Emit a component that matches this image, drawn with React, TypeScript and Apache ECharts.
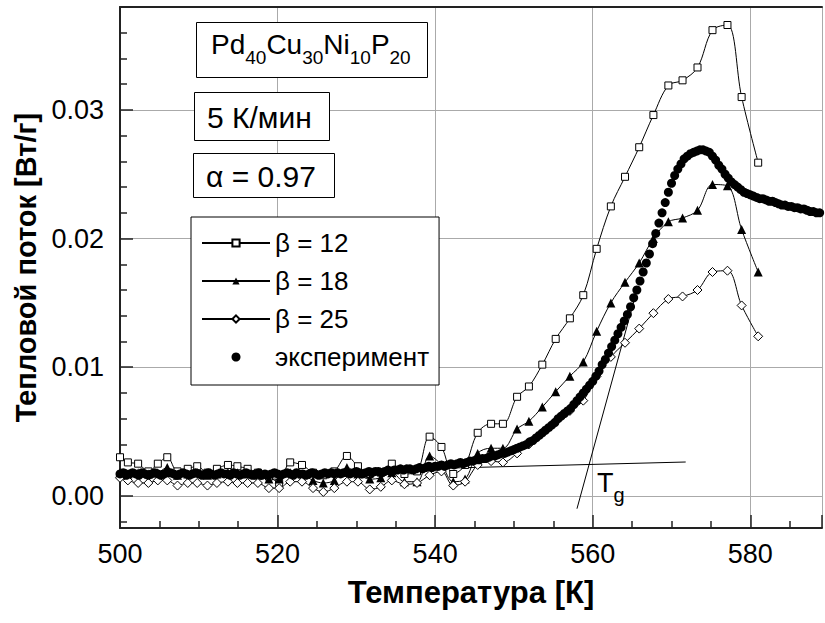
import React, { useEffect, useRef } from "react";
import * as echarts from "echarts";

const FONT = "'Liberation Sans', Arial, Helvetica, sans-serif";

// Legend / series names
const seriesNames = ["β = 12", "β = 18", "β = 25", "эксперимент"];

// Axis tick labels
const xTickLabels = [500, 520, 540, 560, 580];
const yTickLabels = [0.0, 0.01, 0.02, 0.03];

// Temperature points of the model curves [K]
const modelT = [
  500.0, 501.0, 502.3, 503.6, 504.8, 506.0, 507.3, 508.6, 509.8, 511.1,
  512.3, 513.7, 514.9, 516.2, 517.5, 518.9, 520.2, 521.6, 523.1, 524.5,
  525.8, 527.2, 528.8, 530.2, 531.7, 533.1, 534.5, 536.1, 537.7, 539.3,
  540.8, 542.3, 543.8, 545.4, 547.1, 548.6, 550.4, 551.9, 553.6, 555.3,
  557.1, 558.8, 560.5, 562.3, 564.1, 565.9, 567.7, 569.6, 571.4, 573.3,
  575.2, 577.1, 578.9, 581.0,
];

// Model heat flow, beta = 12 [W/g]
const beta12 = [
  0.0030, 0.0026, 0.0025, 0.0019, 0.0025, 0.0030, 0.0019, 0.0021, 0.0023, 0.0018,
  0.0021, 0.0024, 0.0023, 0.0021, 0.0018, 0.0015, 0.0010, 0.0026, 0.0024, 0.0018,
  0.0016, 0.0019, 0.0031, 0.0023, 0.0017, 0.0018, 0.0025, 0.0017, 0.0019, 0.0046,
  0.0038, 0.0017, 0.0024, 0.0049, 0.0056, 0.0056, 0.0077, 0.0085, 0.0102, 0.0122,
  0.0138, 0.0156, 0.0192, 0.0225, 0.0248, 0.0271, 0.0296, 0.0319, 0.0323, 0.0333,
  0.0362, 0.0366, 0.0310, 0.0259,
];

// Model heat flow, beta = 18 [W/g]
const beta18 = [
  0.0018, 0.0017, 0.0018, 0.0017, 0.0018, 0.0022, 0.0016, 0.0017, 0.0018, 0.0016,
  0.0017, 0.0018, 0.0018, 0.0017, 0.0016, 0.0013, 0.0013, 0.0018, 0.0017, 0.0012,
  0.0010, 0.0012, 0.0022, 0.0017, 0.0013, 0.0014, 0.0018, 0.0011, 0.0011, 0.0031,
  0.0024, 0.0011, 0.0013, 0.0033, 0.0037, 0.0037, 0.0052, 0.0058, 0.0069, 0.0081,
  0.0093, 0.0104, 0.0128, 0.0150, 0.0166, 0.0181, 0.0200, 0.0213, 0.0216, 0.0222,
  0.0242, 0.0241, 0.0207, 0.0174,
];

// Model heat flow, beta = 25 [W/g]
const beta25 = [
  0.0014, 0.0012, 0.0010, 0.0010, 0.0012, 0.0012, 0.0008, 0.0010, 0.0010, 0.0008,
  0.0010, 0.0011, 0.0010, 0.0010, 0.0010, 0.0006, 0.0006, 0.0011, 0.0011, 0.0006,
  0.0003, 0.0006, 0.0011, 0.0011, 0.0005, 0.0007, 0.0012, 0.0009, 0.0010, 0.0016,
  0.0019, 0.0008, 0.0011, 0.0024, 0.0027, 0.0026, 0.0033, 0.0040, 0.0049, 0.0058,
  0.0066, 0.0074, 0.0093, 0.0108, 0.0119, 0.0130, 0.0142, 0.0153, 0.0155, 0.0160,
  0.0174, 0.0175, 0.0148, 0.0124,
];

// Experimental DSC curve: first temperature, temperature step [K], readings [W/g]
const expStartT = 500;
const expStepT = 0.4;
const expHeat = [
  0.0017, 0.0018, 0.0016, 0.0017, 0.0018, 0.0017, 0.0016, 0.0018, 0.0017, 0.0016,
  0.0017, 0.0018, 0.0017, 0.0016, 0.0017, 0.0018, 0.0018, 0.0017, 0.0016, 0.0017,
  0.0018, 0.0017, 0.0016, 0.0017, 0.0018, 0.0017, 0.0016, 0.0017, 0.0018, 0.0017,
  0.0016, 0.0017, 0.0018, 0.0017, 0.0017, 0.0016, 0.0018, 0.0017, 0.0016, 0.0017,
  0.0018, 0.0017, 0.0016, 0.0017, 0.0018, 0.0016, 0.0017, 0.0016, 0.0017, 0.0018,
  0.0017, 0.0016, 0.0017, 0.0018, 0.0017, 0.0016, 0.0018, 0.0017, 0.0017, 0.0016,
  0.0017, 0.0018, 0.0017, 0.0016, 0.0017, 0.0018, 0.0017, 0.0018, 0.0017, 0.0018,
  0.0017, 0.0018, 0.0018, 0.0017, 0.0018, 0.0019, 0.0018, 0.0017, 0.0018, 0.0019,
  0.0018, 0.0019, 0.0019, 0.0018, 0.0019, 0.0020, 0.0019, 0.0020, 0.0020, 0.0021,
  0.0020, 0.0021, 0.0021, 0.0020, 0.0021, 0.0022, 0.0021, 0.0022, 0.0023, 0.0022,
  0.0023, 0.0023, 0.0024, 0.0023, 0.0024, 0.0025, 0.0024, 0.0025, 0.0026, 0.0025,
  0.0026, 0.0027, 0.0027, 0.0028, 0.0028, 0.0029, 0.0029, 0.0030, 0.0031, 0.0031,
  0.0032, 0.0033, 0.0033, 0.0034, 0.0035, 0.0036, 0.0037, 0.0038, 0.0039, 0.0040,
  0.0042, 0.0043, 0.0045, 0.0047, 0.0049, 0.0051, 0.0053, 0.0055, 0.0057, 0.0060,
  0.0062, 0.0064, 0.0066, 0.0068, 0.0071, 0.0074, 0.0077, 0.0080, 0.0083, 0.0086,
  0.0089, 0.0093, 0.0097, 0.0102, 0.0106, 0.0111, 0.0116, 0.0121, 0.0126, 0.0131,
  0.0136, 0.0141, 0.0147, 0.0154, 0.0160, 0.0167, 0.0174, 0.0181, 0.0188, 0.0196,
  0.0204, 0.0212, 0.0220, 0.0228, 0.0236, 0.0243, 0.0249, 0.0254, 0.0258, 0.0262,
  0.0264, 0.0266, 0.0267, 0.0268, 0.0269, 0.0269, 0.0268, 0.0267, 0.0264, 0.0261,
  0.0257, 0.0254, 0.0250, 0.0247, 0.0244, 0.0242, 0.0240, 0.0238, 0.0236, 0.0235,
  0.0234, 0.0233, 0.0232, 0.0231, 0.0231, 0.0230, 0.0229, 0.0229, 0.0228, 0.0227,
  0.0226, 0.0226, 0.0225, 0.0225, 0.0224, 0.0224, 0.0223, 0.0223, 0.0222, 0.0221,
  0.0221, 0.0220, 0.0220,
];

// Construction lines for Tg (baseline and inflection tangent)
const baselineT = [500, 571.8];
const baselineV = [0.0015, 0.00263];
const onsetT = [558.0, 565.3];
const onsetV = [-0.001, 0.0153];

const zip = (xs: number[], ys: number[]) => xs.map((x, i) => [x, ys[i]]);

const AXIS_COLOR = "#222";

function buildOption() {
  const expData = expHeat.map((v, i) => [+(expStartT + i * expStepT).toFixed(1), v]);
  const lineStyle = { color: "#000", width: 1 };
  const openItem = { color: "#fff", borderColor: "#000", borderWidth: 1, opacity: 1 };

  return {
    animation: false,
    backgroundColor: "#fff",
    grid: { left: 120, top: 7, right: -3, bottom: 95, containLabel: false },
    xAxis: [
      {
        type: "value",
        min: 500,
        max: 589.1,
        interval: 20,
        name: "Температура [К]",
        nameLocation: "middle",
        nameGap: 49,
        nameTextStyle: { fontFamily: FONT, fontWeight: "bold", fontSize: 31, color: "#000" },
        axisLine: { show: true, onZero: false, lineStyle: { color: AXIS_COLOR, width: 2 } },
        axisTick: { show: true, inside: true, length: 13, lineStyle: { color: AXIS_COLOR, width: 1.5 } },
        minorTick: { show: true, splitNumber: 4, length: 7, lineStyle: { color: AXIS_COLOR, width: 1.5 } },
        axisLabel: {
          show: true,
          margin: 12,
          fontFamily: FONT,
          fontSize: 27,
          color: "#000",
          formatter: (v: number) => (xTickLabels.some((t) => Math.abs(t - v) < 1e-6) ? String(v) : ""),
        },
        splitLine: { show: true, lineStyle: { color: "#aaa", width: 1 } },
      },
      {
        type: "value",
        position: "top",
        min: 500,
        max: 589.1,
        axisLine: { show: true, onZero: false, lineStyle: { color: AXIS_COLOR, width: 2 } },
        axisTick: { show: false },
        axisLabel: { show: false },
        splitLine: { show: false },
      },
    ],
    yAxis: {
      type: "value",
      min: -0.0025,
      max: 0.038,
      name: "Тепловой поток [Вт/г]",
      nameLocation: "middle",
      nameRotate: 90,
      nameGap: 78,
      nameTextStyle: { fontFamily: FONT, fontWeight: "bold", fontSize: 29, color: "#000" },
      axisLine: { show: true, onZero: false, lineStyle: { color: AXIS_COLOR, width: 2 } },
      axisTick: { show: true, inside: true, length: 13, lineStyle: { color: AXIS_COLOR, width: 1.5 } },
      minorTick: { show: true, splitNumber: 5, length: 7, lineStyle: { color: AXIS_COLOR, width: 1.5 } },
      axisLabel: {
        show: true,
        margin: 16,
        fontFamily: FONT,
        fontSize: 27,
        color: "#000",
        formatter: (v: number) => (yTickLabels.some((t) => Math.abs(t - v) < 1e-9) ? v.toFixed(2) : ""),
      },
      splitLine: { show: true, lineStyle: { color: "#aaa", width: 1 } },
    },
    legend: {
      data: seriesNames,
      orient: "vertical",
      left: 191,
      top: 217,
      padding: [12, 10, 14, 10],
      itemGap: 10,
      itemWidth: 68,
      itemHeight: 9,
      borderColor: "#000",
      borderWidth: 1,
      borderRadius: 0,
      backgroundColor: "#fff",
      selectedMode: false,
      textStyle: { fontFamily: FONT, fontSize: 26, color: "#000", lineHeight: 28 },
    },
    graphic: [
      {
        type: "rect",
        z: 100,
        shape: { x: 196.5, y: 22.5, width: 231, height: 55 },
        style: { fill: "#fff", stroke: "#000", lineWidth: 1 },
      },
      {
        type: "text",
        z: 101,
        x: 211,
        y: 44,
        style: {
          text: "{m|Pd}{s|40}{m|Cu}{s|30}{m|Ni}{s|10}{m|P}{s|20}",
          align: "left",
          verticalAlign: "middle",
          fill: "#000",
          rich: {
            m: { fontFamily: FONT, fontSize: 28, lineHeight: 46, fill: "#000" },
            s: { fontFamily: FONT, fontSize: 19, lineHeight: 19, verticalAlign: "bottom", fill: "#000" },
          },
        },
      },
      {
        type: "rect",
        z: 100,
        shape: { x: 194.5, y: 92.5, width: 135, height: 48 },
        style: { fill: "#fff", stroke: "#000", lineWidth: 1 },
      },
      {
        type: "text",
        z: 101,
        x: 207,
        y: 117,
        style: { text: "5 К/мин", align: "left", verticalAlign: "middle", fill: "#000", font: `30px ${FONT}` },
      },
      {
        type: "rect",
        z: 100,
        shape: { x: 193.5, y: 153.5, width: 141, height: 44 },
        style: { fill: "#fff", stroke: "#000", lineWidth: 1 },
      },
      {
        type: "text",
        z: 101,
        x: 206,
        y: 176,
        style: { text: "α = 0.97", align: "left", verticalAlign: "middle", fill: "#000", font: `30px ${FONT}` },
      },
      {
        type: "text",
        z: 101,
        x: 597,
        y: 461,
        style: {
          text: "{t|T}{g|g}",
          align: "left",
          verticalAlign: "top",
          fill: "#000",
          rich: {
            t: { fontFamily: FONT, fontSize: 27, lineHeight: 44, fill: "#000" },
            g: { fontFamily: FONT, fontSize: 20, lineHeight: 20, verticalAlign: "bottom", fill: "#000" },
          },
        },
      },
    ],
    series: [
      {
        name: "baseline",
        type: "line",
        data: zip(baselineT, baselineV),
        symbol: "none",
        lineStyle,
        silent: true,
        z: 1,
      },
      {
        name: "tangent",
        type: "line",
        data: zip(onsetT, onsetV),
        symbol: "none",
        lineStyle,
        silent: true,
        z: 1,
      },
      {
        name: seriesNames[0],
        type: "line",
        data: zip(modelT, beta12),
        smooth: 0.35,
        showAllSymbol: true,
        symbol: "rect",
        symbolSize: 7,
        itemStyle: openItem,
        lineStyle,
        z: 3,
      },
      {
        name: seriesNames[1],
        type: "line",
        data: zip(modelT, beta18),
        smooth: 0.35,
        showAllSymbol: true,
        symbol: "triangle",
        symbolSize: 9,
        itemStyle: { color: "#000", opacity: 1 },
        lineStyle,
        z: 3,
      },
      {
        name: seriesNames[2],
        type: "line",
        data: zip(modelT, beta25),
        smooth: 0.35,
        showAllSymbol: true,
        symbol: "diamond",
        symbolSize: 9,
        itemStyle: openItem,
        lineStyle,
        z: 3,
      },
      {
        name: seriesNames[3],
        type: "scatter",
        data: expData,
        symbol: "circle",
        symbolSize: 9,
        itemStyle: { color: "#000", opacity: 1 },
        z: 5,
      },
    ],
  };
}

export default function App() {
  const ref = useRef<HTMLDivElement>(null);
  useEffect(() => {
    if (!ref.current) return;
    const chart = echarts.init(ref.current, null, { renderer: "svg" });
    chart.setOption(buildOption() as any);
    return () => chart.dispose();
  }, []);
  return (
    <div
      ref={ref}
      style={{ position: "fixed", left: 0, top: 0, width: 825, height: 623, background: "#fff" }}
    />
  );
}
